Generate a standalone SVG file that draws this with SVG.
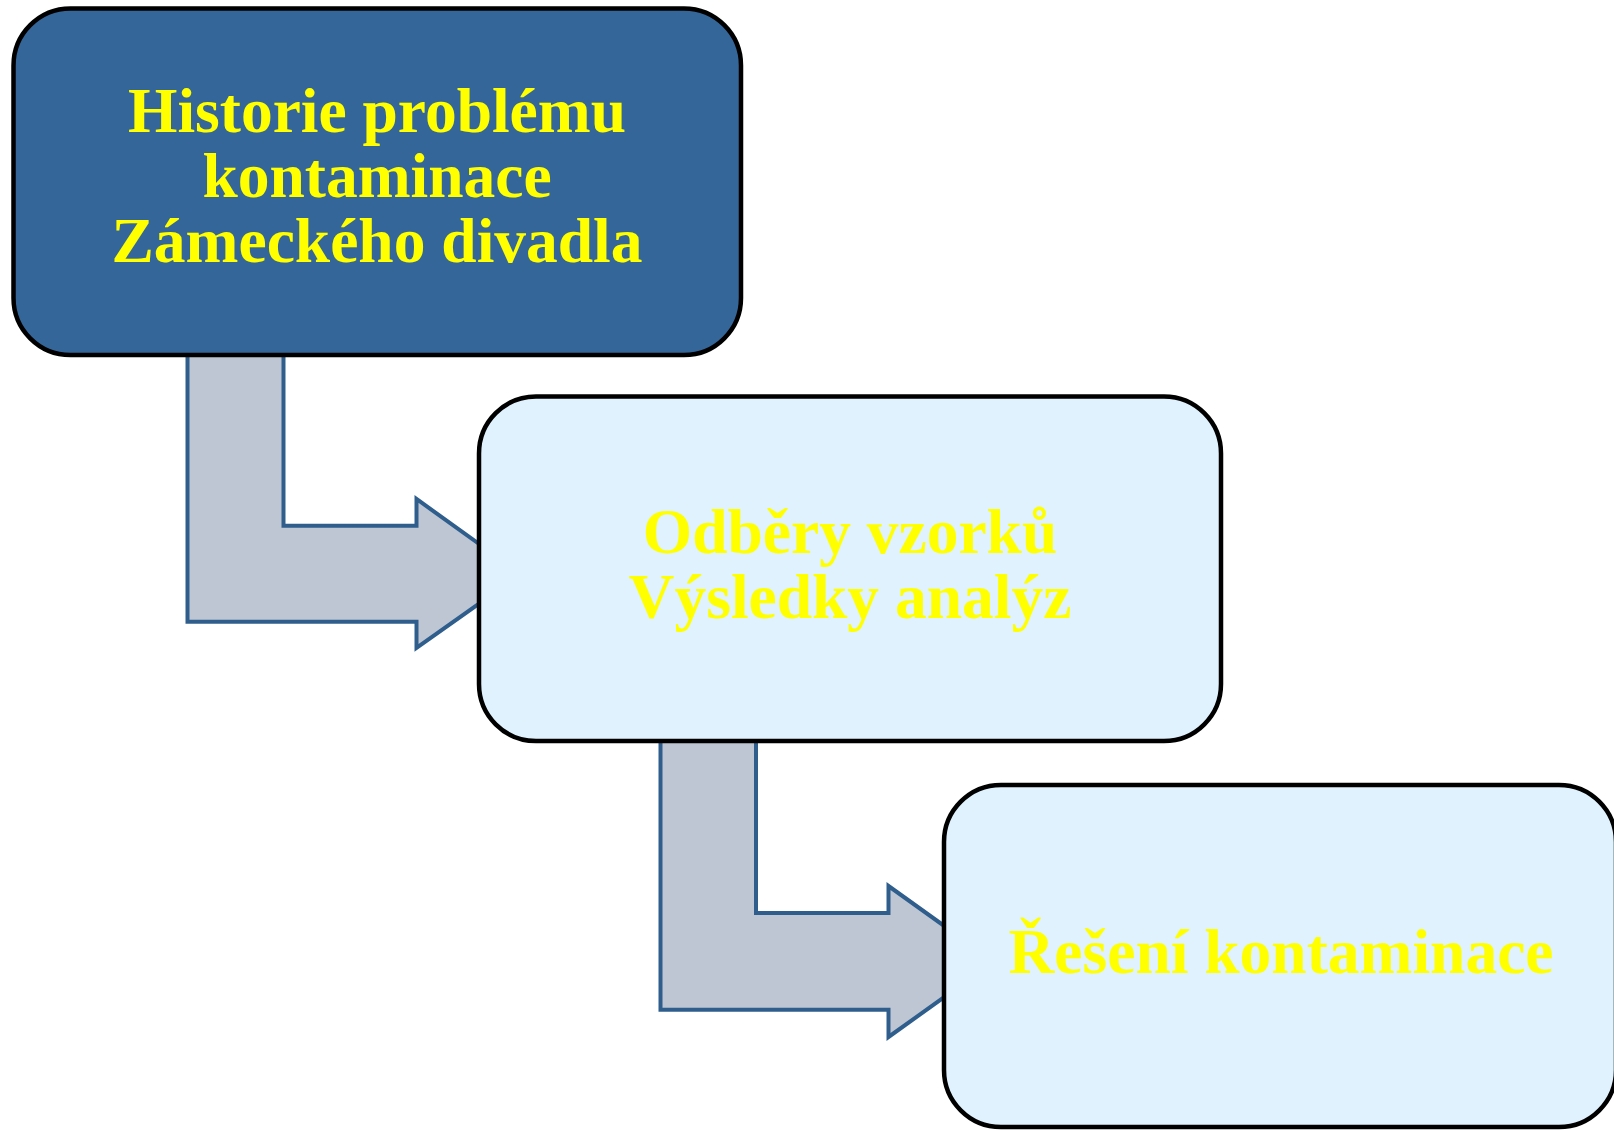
<svg xmlns="http://www.w3.org/2000/svg" width="1614" height="1130" viewBox="0 0 1614 1130">
<style>
.box{stroke:#000;stroke-width:4.5}
.dark{fill:#346699}
.light{fill:#e0f2fd}
.arrow{fill:#bec6d3;stroke:#2f5e8d;stroke-width:4;stroke-linejoin:miter}
.t{font-family:"Liberation Serif","Times New Roman",serif;font-weight:bold;font-size:63.5px;fill:#ffff00;text-anchor:middle}
</style>
<rect width="1614" height="1130" fill="#fff"/>
<g id="connectors">
<path class="arrow" d="M187.5,350 V621.7 H416.5 V648 L521,574 L416.5,499 V525.7 H283.5 V350"/>
<path class="arrow" d="M660.5,736 V1009.7 H888.5 V1037 L994,961.5 L888.5,886 V913 H756 V736"/>
</g>
<g id="node1">
<rect class="box dark" x="13.5" y="8.5" width="727.5" height="346.5" rx="57" ry="57"/>
<text class="t" x="377" y="132">Historie problému</text>
<text class="t" x="377" y="197">kontaminace</text>
<text class="t" x="377" y="262">Zámeckého divadla</text>
</g>
<g id="node2">
<rect class="box light" x="479" y="396.5" width="742" height="344.5" rx="57" ry="57"/>
<text class="t" x="850" y="553">Odběry vzorků</text>
<text class="t" x="850" y="618">Výsledky analýz</text>
</g>
<g id="node3">
<rect class="box light" x="944" y="785" width="672" height="342" rx="57" ry="57"/>
<text class="t" x="1281" y="973">Řešení kontaminace</text>
</g>
</svg>
